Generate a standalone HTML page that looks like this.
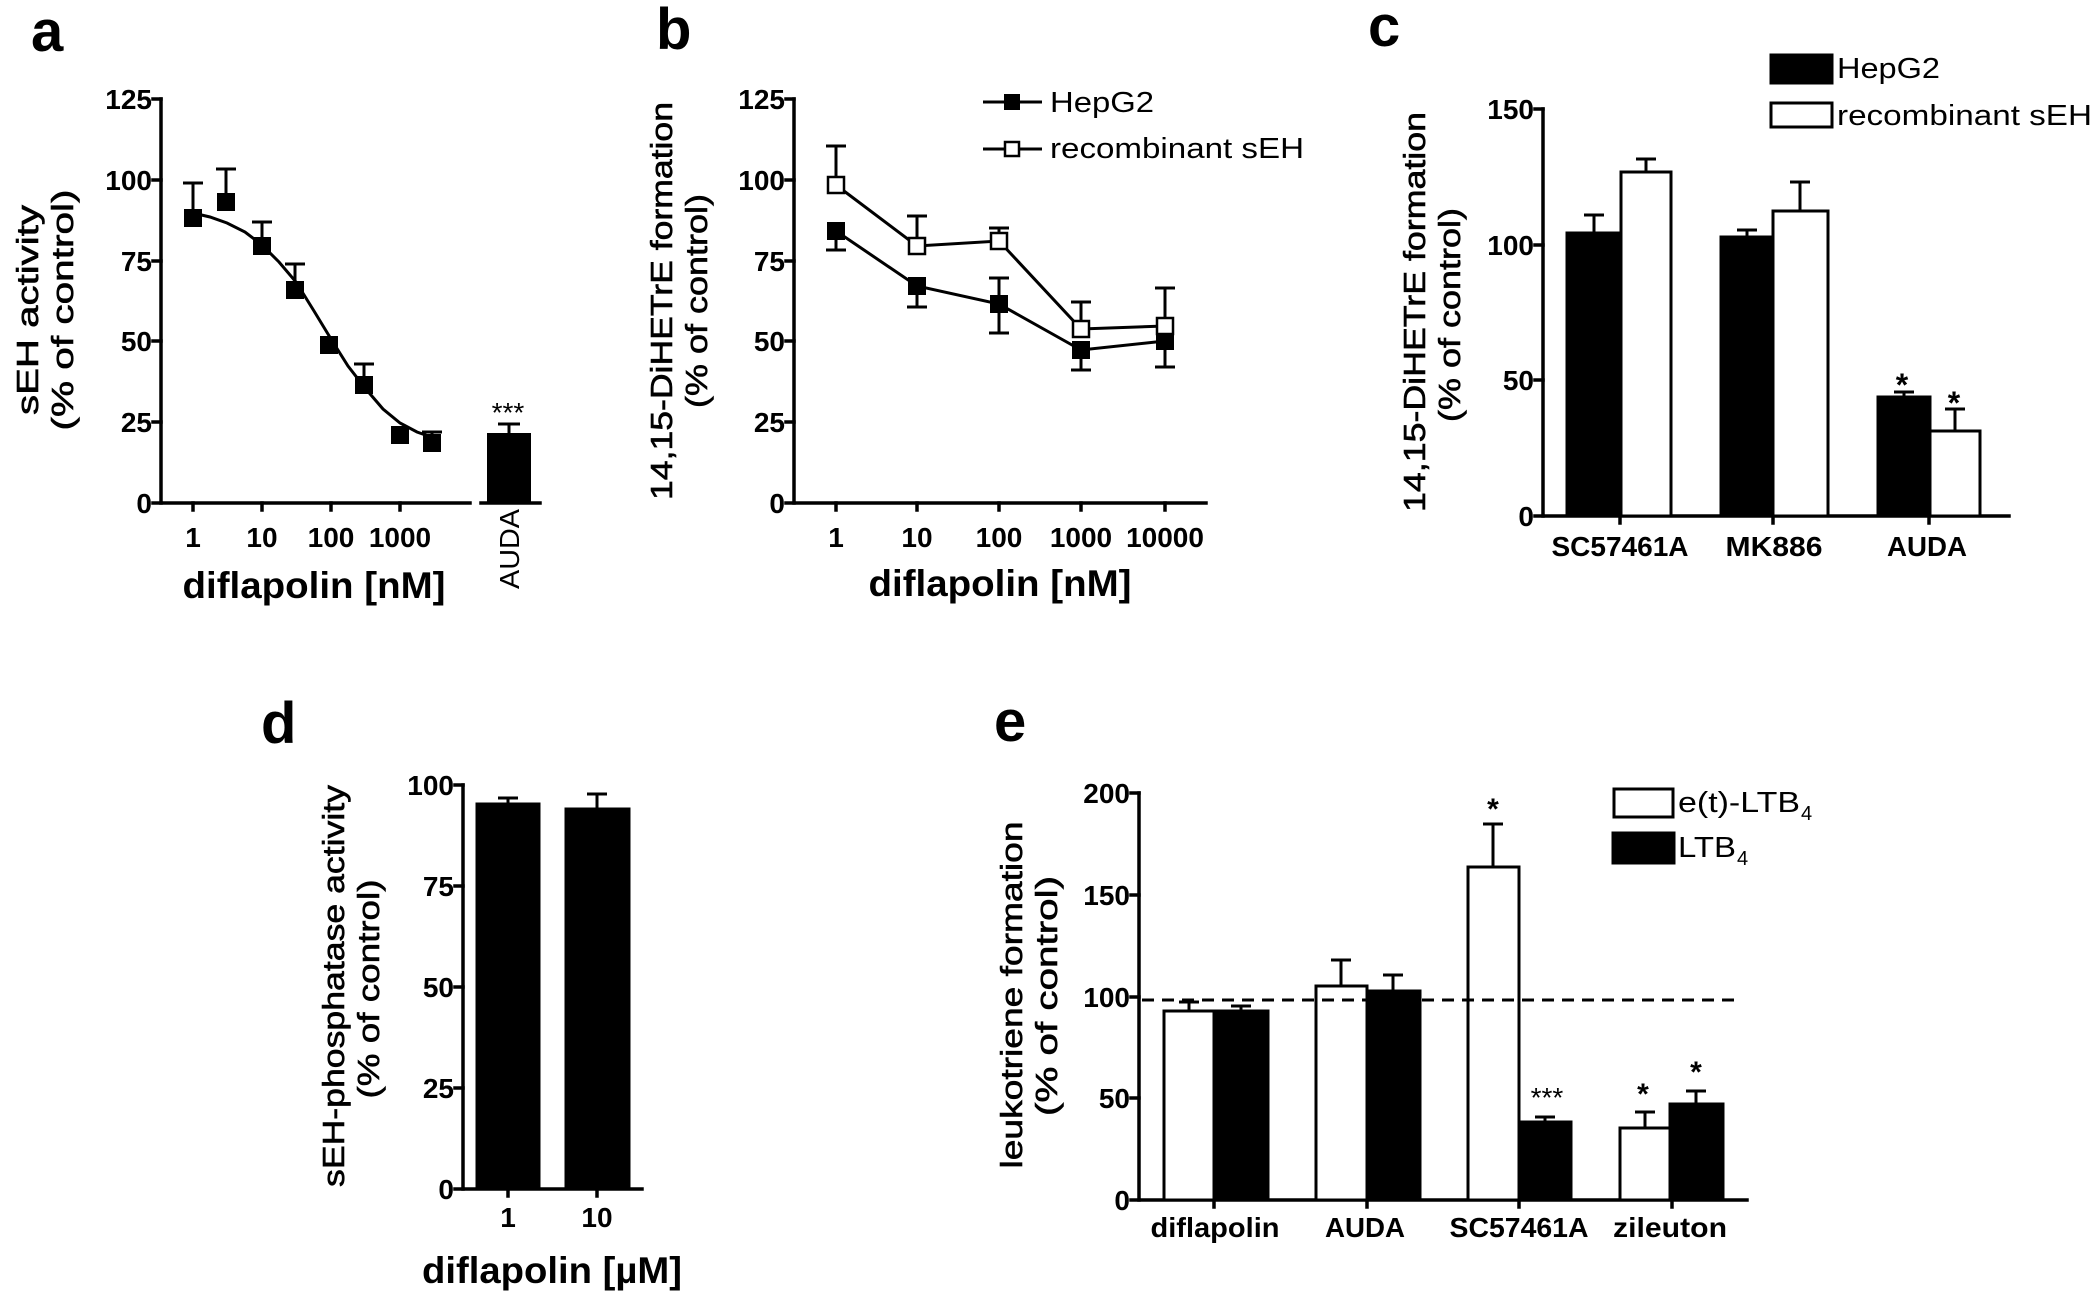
<!DOCTYPE html>
<html><head><meta charset="utf-8"><style>html,body{margin:0;padding:0;background:#fff}svg{display:block}</style></head><body>
<svg xmlns="http://www.w3.org/2000/svg" width="2100" height="1298" viewBox="0 0 2100 1298">
<rect width="2100" height="1298" fill="#fff"/>
<g font-family="'Liberation Sans',sans-serif" font-weight="bold" fill="#000" font-size="58">
<text x="31" y="51">a</text>
<text x="656" y="49">b</text>
<text x="1368" y="46">c</text>
<text x="261" y="743">d</text>
<text x="994" y="741">e</text>
</g>

<g stroke="#000" stroke-width="3.5" fill="none" stroke-linecap="square">
<path d="M161 99V503H470M481 503H540"/>
<path d="M153 99H161M153 180H161M153 261H161M153 341H161M153 422H161M153 503H161"/>
<path d="M193 503V510M262 503V510M331 503V510M400 503V510"/>
<path d="M794 99V503H1206"/>
<path d="M786 99H794M786 180H794M786 261H794M786 341H794M786 422H794M786 503H794"/>
<path d="M836 503V510M917 503V510M999 503V510M1081 503V510M1165 503V510"/>
<path d="M1543 109V516H2009"/>
<path d="M1535 109H1543M1535 245H1543M1535 380H1543M1535 516H1543"/>
<path d="M1620 516V523M1773 516V523M1929 516V523"/>
<path d="M463 785V1189H642"/>
<path d="M455 785H463M455 886H463M455 987H463M455 1088H463M455 1189H463"/>
<path d="M508 1189V1196M597 1189V1196"/>
<path d="M1139 793V1200H1747"/>
<path d="M1131 793H1139M1131 895H1139M1131 997H1139M1131 1098H1139M1131 1200H1139"/>
<path d="M1214 1200V1207M1367 1200V1207M1519 1200V1207M1672 1200V1207"/>
</g>

<g font-family="'Liberation Sans',sans-serif" font-weight="bold" font-size="28" fill="#000" text-anchor="end">
<text x="152" y="109">125</text><text x="152" y="190">100</text><text x="152" y="271">75</text>
<text x="152" y="351">50</text><text x="152" y="432">25</text><text x="152" y="513">0</text>
<text x="785" y="109">125</text><text x="785" y="190">100</text><text x="785" y="271">75</text>
<text x="785" y="351">50</text><text x="785" y="432">25</text><text x="785" y="513">0</text>
<text x="1534" y="119">150</text><text x="1534" y="255">100</text><text x="1534" y="390">50</text><text x="1534" y="526">0</text>
<text x="454" y="795">100</text><text x="454" y="896">75</text><text x="454" y="997">50</text><text x="454" y="1098">25</text><text x="454" y="1199">0</text>
<text x="1130" y="803">200</text><text x="1130" y="905">150</text><text x="1130" y="1007">100</text><text x="1130" y="1108">50</text><text x="1130" y="1210">0</text>
</g>
<g font-family="'Liberation Sans',sans-serif" font-weight="bold" font-size="28" fill="#000" text-anchor="middle">
<text x="193" y="547">1</text><text x="262" y="547">10</text><text x="331" y="547">100</text><text x="400" y="547">1000</text>
<text x="836" y="547">1</text><text x="917" y="547">10</text><text x="999" y="547">100</text><text x="1081" y="547">1000</text><text x="1165" y="547">10000</text>
<text x="1620" y="556" textLength="137" lengthAdjust="spacingAndGlyphs">SC57461A</text>
<text x="1774" y="556" textLength="97" lengthAdjust="spacingAndGlyphs">MK886</text>
<text x="1927" y="556" textLength="80" lengthAdjust="spacingAndGlyphs">AUDA</text>
<text x="508" y="1227">1</text><text x="597" y="1227">10</text>
<text x="1215" y="1237" textLength="129" lengthAdjust="spacingAndGlyphs">diflapolin</text>
<text x="1365" y="1237" textLength="80" lengthAdjust="spacingAndGlyphs">AUDA</text>
<text x="1519" y="1237" textLength="139" lengthAdjust="spacingAndGlyphs">SC57461A</text>
<text x="1670" y="1237" textLength="114" lengthAdjust="spacingAndGlyphs">zileuton</text>
<text transform="translate(519,549) rotate(-90)" font-weight="normal" textLength="80" lengthAdjust="spacingAndGlyphs">AUDA</text>
<text x="314" y="598" font-size="37" textLength="263" lengthAdjust="spacingAndGlyphs">diflapolin [nM]</text>
<text x="1000" y="596" font-size="37" textLength="263" lengthAdjust="spacingAndGlyphs">diflapolin [nM]</text>
<text x="552" y="1283" font-size="37" textLength="260" lengthAdjust="spacingAndGlyphs">diflapolin [µM]</text>
</g>

<g font-family="'Liberation Sans',sans-serif" font-size="31" fill="#000" stroke="#000" stroke-width="0.6" text-anchor="middle">
<text transform="translate(38,310) rotate(-90)" textLength="210" lengthAdjust="spacingAndGlyphs">sEH activity</text>
<text transform="translate(73,310) rotate(-90)" textLength="241" lengthAdjust="spacingAndGlyphs">(% of control)</text>
<text transform="translate(672,301) rotate(-90)" textLength="398" lengthAdjust="spacingAndGlyphs">14,15-DiHETrE formation</text>
<text transform="translate(707,301) rotate(-90)" textLength="214" lengthAdjust="spacingAndGlyphs">(% of control)</text>
<text transform="translate(1425,312) rotate(-90)" textLength="400" lengthAdjust="spacingAndGlyphs">14,15-DiHETrE formation</text>
<text transform="translate(1460,315) rotate(-90)" textLength="214" lengthAdjust="spacingAndGlyphs">(% of control)</text>
<text transform="translate(344,986) rotate(-90)" textLength="402" lengthAdjust="spacingAndGlyphs">sEH-phosphatase activity</text>
<text transform="translate(379,989) rotate(-90)" textLength="219" lengthAdjust="spacingAndGlyphs">(% of control)</text>
<text transform="translate(1022,995) rotate(-90)" textLength="347" lengthAdjust="spacingAndGlyphs">leukotriene formation</text>
<text transform="translate(1057,996) rotate(-90)" textLength="240" lengthAdjust="spacingAndGlyphs">(% of control)</text>
</g>

<!-- panel a data -->
<g stroke="#000" stroke-width="3" fill="none">
<polyline points="193,213 210,217 227,223 245,232 262,245 279,262 296,282 314,311 331,339 348,366 365,388 383,409 400,423 417,432 434,438"/>
<path d="M193 218V183M183 183H203M226 202V169M216 169H236M262 246V222M252 222H272M295 290V264M285 264H305M364 385V364M354 364H374M432 443V432M422 432H442M509 433V424M498 424H520"/>
</g>
<g fill="#000">
<rect x="184" y="209" width="18" height="18"/><rect x="217" y="193" width="18" height="18"/>
<rect x="253" y="237" width="18" height="18"/><rect x="286" y="281" width="18" height="18"/>
<rect x="320" y="336" width="18" height="18"/><rect x="355" y="376" width="18" height="18"/>
<rect x="391" y="426" width="18" height="18"/><rect x="423" y="434" width="18" height="18"/>
<rect x="487" y="433" width="44" height="70"/>
</g>
<text x="508" y="422" font-family="'Liberation Sans',sans-serif" font-size="28" text-anchor="middle">***</text>

<!-- panel b data -->
<g stroke="#000" stroke-width="3" fill="none">
<polyline points="836,231 917,286 999,304 1081,350 1165,341"/>
<polyline points="836,185 917,246 999,241 1081,329 1165,326"/>
<path d="M836 231V250M826 250H846M917 286V307M907 307H927M917 286V277M999 304V333M989 333H1009M999 304V278M989 278H1009M1081 350V370M1071 370H1091M1165 341V367M1155 367H1175"/>
<path d="M836 185V146M826 146H846M917 246V216M907 216H927M999 241V228M989 228H1009M1081 329V302M1071 302H1091M1165 326V288M1155 288H1175"/>
<path d="M983 102H1042M983 149H1042"/>
</g>
<g fill="#000">
<rect x="827" y="222" width="18" height="18"/><rect x="908" y="277" width="18" height="18"/>
<rect x="990" y="295" width="18" height="18"/><rect x="1072" y="341" width="18" height="18"/><rect x="1156" y="332" width="18" height="18"/>
<rect x="1004" y="94" width="16" height="16"/>
</g>
<g fill="#fff" stroke="#000" stroke-width="2.5">
<rect x="828" y="177" width="16" height="16"/><rect x="909" y="238" width="16" height="16"/>
<rect x="991" y="233" width="16" height="16"/><rect x="1073" y="321" width="16" height="16"/><rect x="1157" y="318" width="16" height="16"/>
<rect x="1005" y="142" width="14" height="14"/>
</g>
<g font-family="'Liberation Sans',sans-serif" font-size="29" fill="#000">
<text x="1050" y="112" textLength="104" lengthAdjust="spacingAndGlyphs">HepG2</text>
<text x="1050" y="158" textLength="254" lengthAdjust="spacingAndGlyphs">recombinant sEH</text>
<text x="1837" y="78" textLength="103" lengthAdjust="spacingAndGlyphs">HepG2</text>
<text x="1837" y="125" textLength="255" lengthAdjust="spacingAndGlyphs">recombinant sEH</text>
<text x="1678" y="812" textLength="122" lengthAdjust="spacingAndGlyphs">e(t)-LTB</text>
<text x="1801" y="820" font-size="20">4</text>
<text x="1678" y="857" textLength="58" lengthAdjust="spacingAndGlyphs">LTB</text>
<text x="1737" y="865" font-size="20">4</text>
</g>

<!-- panel c -->
<g stroke="#000" stroke-width="3">
<path d="M1594 233V215M1584 215H1604M1646 172V159M1636 159H1656M1747 237V230M1737 230H1757M1800 211V182M1790 182H1810M1904 397V392M1894 392H1914M1955 431V409M1945 409H1965" fill="none"/>
<rect x="1567" y="233" width="54" height="283" fill="#000"/>
<rect x="1621" y="172" width="50" height="344" fill="#fff"/>
<rect x="1721" y="237" width="52" height="279" fill="#000"/>
<rect x="1773" y="211" width="55" height="305" fill="#fff"/>
<rect x="1878" y="397" width="52" height="119" fill="#000"/>
<rect x="1930" y="431" width="50" height="85" fill="#fff"/>
<rect x="1771" y="55" width="61" height="28" fill="#000"/>
<rect x="1771" y="103" width="61" height="24" fill="#fff"/>
</g>
<g font-family="'Liberation Sans',sans-serif" font-size="32" font-weight="bold" text-anchor="middle">
<text x="1902" y="396">*</text><text x="1954" y="414">*</text>
</g>

<!-- panel d -->
<g stroke="#000" stroke-width="3">
<path d="M508 804V798M498 798H518M597 809V794M587 794H607" fill="none"/>
<rect x="477" y="804" width="62" height="385" fill="#000"/>
<rect x="566" y="809" width="63" height="380" fill="#000"/>
</g>

<!-- panel e -->
<g stroke="#000" stroke-width="3">
<path d="M1189 1011V1002M1179 1002H1199M1241 1011V1006M1231 1006H1251M1341 986V960M1331 960H1351M1393 991V975M1383 975H1403M1493 867V824M1483 824H1503M1545 1122V1117M1535 1117H1555M1645 1128V1112M1635 1112H1655M1696 1104V1091M1686 1091H1706" fill="none"/>
<rect x="1164" y="1011" width="50" height="189" fill="#fff"/>
<rect x="1214" y="1011" width="54" height="189" fill="#000"/>
<rect x="1316" y="986" width="51" height="214" fill="#fff"/>
<rect x="1367" y="991" width="53" height="209" fill="#000"/>
<rect x="1468" y="867" width="51" height="333" fill="#fff"/>
<rect x="1519" y="1122" width="52" height="78" fill="#000"/>
<rect x="1620" y="1128" width="50" height="72" fill="#fff"/>
<rect x="1670" y="1104" width="53" height="96" fill="#000"/>
<rect x="1614" y="789" width="59" height="28" fill="#fff"/>
<rect x="1613" y="833" width="61" height="30" fill="#000"/>
</g>
<path d="M1142 1000H1741" stroke="#000" stroke-width="3" stroke-dasharray="12 8" fill="none"/>
<g font-family="'Liberation Sans',sans-serif" font-size="30" font-weight="bold" text-anchor="middle">
<text x="1493" y="819">*</text>
<text x="1547" y="1107" font-weight="normal" font-size="28">***</text>
<text x="1643" y="1104">*</text>
<text x="1696" y="1082">*</text>
</g>
</svg>
</body></html>
